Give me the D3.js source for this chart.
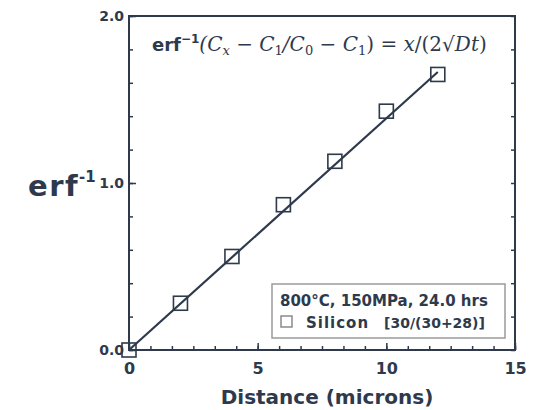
<!DOCTYPE html>
<html>
<head>
<meta charset="utf-8">
<script src="https://cdn.jsdelivr.net/npm/d3@7"></script>
<style>
  body { margin: 0; background: #fff; }
  svg text { font-family: "DejaVu Sans", Arial, sans-serif; }
</style>
</head>
<body>
<div id="chart"></div>
<script>
// data
var distance = [0, 2, 4, 6, 8, 10, 12];
var erfInv = [0, 0.28, 0.56, 0.87, 1.13, 1.43, 1.65];
var fitX = [0, 12];
var fitY = [0, 1.665];
var xMajor = [0, 5, 10, 15];
var yMajor = [0, 1.0, 2.0];

var ink = "#2e3a4c";
var serif = "DejaVu Serif";

var margin = {top: 16, right: 19, bottom: 60, left: 129};
var width = 534 - margin.left - margin.right;
var height = 410 - margin.top - margin.bottom;

var x = d3.scaleLinear().domain([0, 15]).range([0, width]);
var y = d3.scaleLinear().domain([0, 2]).range([height, 0]);

var svg = d3.select("#chart").append("svg")
  .attr("width", 534)
  .attr("height", 410);

var g = svg.append("g")
  .attr("transform", "translate(" + margin.left + "," + margin.top + ")");

//frame
g.append("rect")
  .attr("width", width)
  .attr("height", height)
  .attr("fill", "none")
  .attr("stroke", ink)
  .attr("stroke-width", 2);

//minor ticks
var xMinor = d3.range(0, 15.001, 5 / 6);
var yMinor = d3.range(0, 2.001, 0.2);

g.append("g")
  .attr("transform", "translate(0," + height + ")")
  .call(d3.axisBottom(x).tickValues(xMinor).tickSize(-4).tickFormat(""))
  .call(function(a) { a.select(".domain").remove(); });

g.append("g")
  .call(d3.axisLeft(y).tickValues(yMinor).tickSize(-4).tickFormat(""))
  .call(function(a) { a.select(".domain").remove(); });

g.append("g")
  .attr("transform", "translate(" + width + ",0)")
  .call(d3.axisRight(y).tickValues(yMinor).tickSize(-4).tickFormat(""))
  .call(function(a) { a.select(".domain").remove(); });

//major ticks + labels
var xAxis = g.append("g")
  .attr("transform", "translate(0," + height + ")")
  .call(d3.axisBottom(x).tickValues(xMajor).tickSize(-7).tickPadding(13).tickFormat(d3.format("d")))
  .call(function(a) { a.select(".domain").remove(); });

xAxis.attr("font-size", 16).attr("font-family", null);
xAxis.selectAll("text")
  .attr("font-weight", "bold")
  .attr("fill", ink);

var yAxis = g.append("g")
  .call(d3.axisLeft(y).tickValues(yMajor).tickSize(-7).tickPadding(5).tickFormat(d3.format(".1f")))
  .call(function(a) { a.select(".domain").remove(); });

yAxis.attr("font-size", 14).attr("font-family", null);
yAxis.selectAll("text")
  .attr("font-weight", "bold")
  .attr("fill", ink);

g.selectAll(".tick line").attr("stroke", ink).attr("stroke-width", 1.5);

//fit line
var line = d3.line()
  .x(function(d) { return x(d[0]); })
  .y(function(d) { return y(d[1]); });

g.append("path")
  .datum(d3.zip(fitX, fitY))
  .attr("d", line)
  .attr("fill", "none")
  .attr("stroke", ink)
  .attr("stroke-width", 2.2);

//square markers
var ms = 14;
g.selectAll(".pt")
  .data(d3.zip(distance, erfInv))
  .enter().append("rect")
  .attr("class", "pt")
  .attr("x", function(d) { return x(d[0]) - ms / 2; })
  .attr("y", function(d) { return y(d[1]) - ms / 2; })
  .attr("width", ms)
  .attr("height", ms)
  .attr("fill", "none")
  .attr("stroke", ink)
  .attr("stroke-width", 1.6);

//formula
var f = g.append("text")
  .attr("x", 23)
  .attr("y", 35)
  .attr("fill", ink)
  .attr("font-size", 20);
f.append("tspan").attr("font-weight", "bold").attr("font-family", "DejaVu Sans").attr("font-size", 18).text("erf");
f.append("tspan").attr("font-weight", "bold").attr("font-size", 12).attr("dy", -8).text("\u22121");
f.append("tspan").attr("dy", 8).attr("font-family", serif).attr("font-style", "italic").text("(C");
f.append("tspan").attr("font-family", serif).attr("font-style", "italic").attr("font-size", 13).attr("dy", 4).text("x");
f.append("tspan").attr("font-family", serif).attr("dy", -4).text(" \u2212 ");
f.append("tspan").attr("font-family", serif).attr("font-style", "italic").text("C");
f.append("tspan").attr("font-family", serif).attr("font-size", 13).attr("dy", 4).text("1");
f.append("tspan").attr("font-family", serif).attr("font-style", "italic").attr("dy", -4).text("/C");
f.append("tspan").attr("font-family", serif).attr("font-size", 13).attr("dy", 4).text("0");
f.append("tspan").attr("font-family", serif).attr("dy", -4).text(" \u2212 ");
f.append("tspan").attr("font-family", serif).attr("font-style", "italic").text("C");
f.append("tspan").attr("font-family", serif).attr("font-size", 13).attr("dy", 4).text("1");
f.append("tspan").attr("font-family", serif).attr("dy", -4).text(") = ");
f.append("tspan").attr("font-family", serif).attr("font-style", "italic").text("x");
f.append("tspan").attr("font-family", serif).text("/(2\u221A");
f.append("tspan").attr("font-family", serif).attr("font-style", "italic").text("Dt");
f.append("tspan").attr("font-family", serif).text(")");

//legend
var lg = g.append("g").attr("transform", "translate(143,268)");
lg.append("rect")
  .attr("width", 233)
  .attr("height", 54)
  .attr("fill", "#fff")
  .attr("stroke", "#9a9a9a")
  .attr("stroke-width", 1.5);
lg.append("text")
  .attr("x", 8)
  .attr("y", 22)
  .attr("font-size", 15)
  .attr("font-weight", "bold")
  .attr("fill", ink)
  .text("800\u00B0C, 150MPa, 24.0 hrs");
lg.append("rect")
  .attr("x", 9)
  .attr("y", 32)
  .attr("width", 11)
  .attr("height", 11)
  .attr("fill", "none")
  .attr("stroke", "#8a8a8a")
  .attr("stroke-width", 1.5);
lg.append("text")
  .attr("x", 34)
  .attr("y", 44)
  .attr("font-size", 15)
  .attr("font-weight", "bold")
  .attr("letter-spacing", 1)
  .attr("fill", ink)
  .text("Silicon");
lg.append("text")
  .attr("x", 112)
  .attr("y", 44)
  .attr("font-size", 14)
  .attr("font-weight", "bold")
  .attr("fill", ink)
  .text("[30/(30+28)]");

//axis titles
svg.append("text")
  .attr("x", 327)
  .attr("y", 404)
  .attr("text-anchor", "middle")
  .attr("font-size", 20)
  .attr("font-weight", "bold")
  .attr("fill", ink)
  .text("Distance (microns)");

var yl = svg.append("text")
  .attr("x", 28)
  .attr("y", 196)
  .attr("font-size", 29)
  .attr("font-weight", "bold")
  .attr("fill", ink);
yl.append("tspan").attr("letter-spacing", 1.5).text("erf");
yl.append("tspan").attr("font-size", 15).attr("dy", -14).attr("dx", 0).text("-1");
</script>
</body>
</html>
